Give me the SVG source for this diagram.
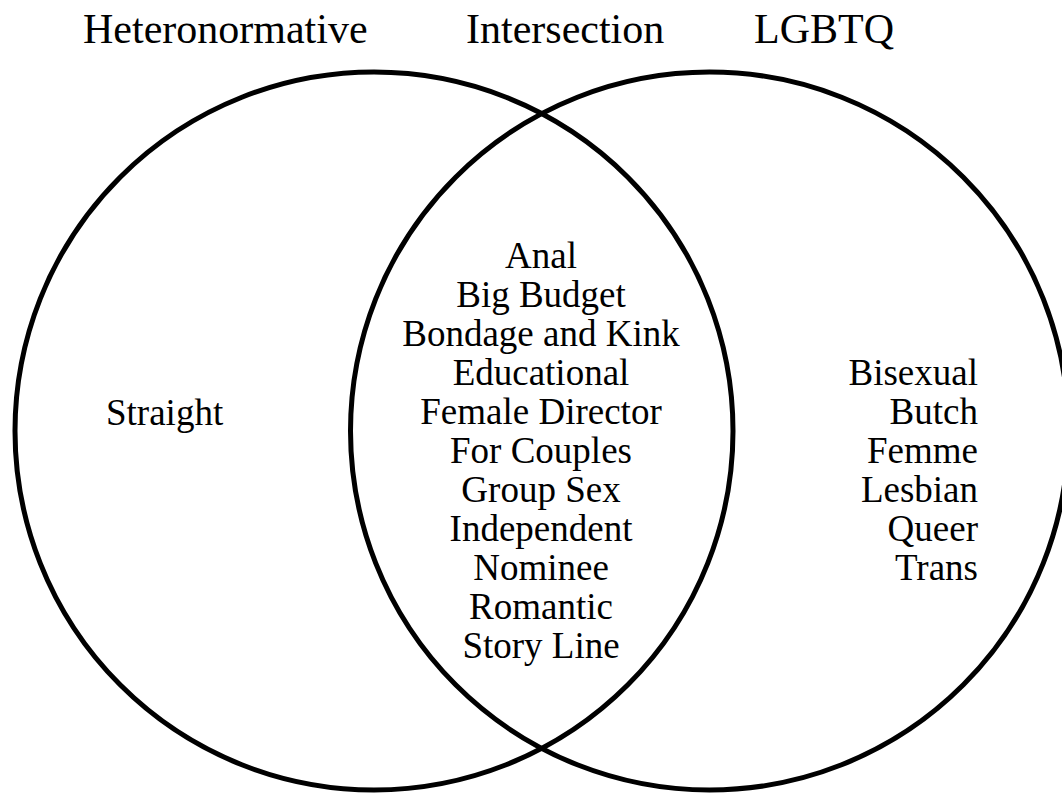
<svg xmlns="http://www.w3.org/2000/svg" width="1062" height="793" viewBox="0 0 1062 793">
<style>
text{font-family:"Liberation Serif","Times New Roman",serif;fill:#000}
.t{font-size:42px}
.c{font-size:37px;text-anchor:middle}
.r{font-size:37px;text-anchor:end}
.l{font-size:37px}
circle{fill:none;stroke:#000;stroke-width:5}
</style>
<rect width="1062" height="793" fill="#fff"/>
<g id="titles">
<text class="t" x="83" y="43">Heteronormative</text>
<text class="t" x="466" y="43">Intersection</text>
<text class="t" x="754" y="43">LGBTQ</text>
</g>
<g id="connectors"></g>
<g id="heteronormative">
<circle cx="374" cy="431" r="359"/>
<text class="l" x="106" y="425">Straight</text>
</g>
<g id="lgbtq">
<circle cx="709.5" cy="431" r="359"/>
<text class="r" x="978" y="385">Bisexual</text>
<text class="r" x="978" y="424">Butch</text>
<text class="r" x="978" y="463">Femme</text>
<text class="r" x="978" y="502">Lesbian</text>
<text class="r" x="978" y="541">Queer</text>
<text class="r" x="978" y="580">Trans</text>
</g>
<g id="intersection">
<text class="c" x="541" y="268">Anal</text>
<text class="c" x="541" y="307">Big Budget</text>
<text class="c" x="541" y="346">Bondage and Kink</text>
<text class="c" x="541" y="385">Educational</text>
<text class="c" x="541" y="424">Female Director</text>
<text class="c" x="541" y="463">For Couples</text>
<text class="c" x="541" y="502">Group Sex</text>
<text class="c" x="541" y="541">Independent</text>
<text class="c" x="541" y="580">Nominee</text>
<text class="c" x="541" y="619">Romantic</text>
<text class="c" x="541" y="658">Story Line</text>
</g>
</svg>
